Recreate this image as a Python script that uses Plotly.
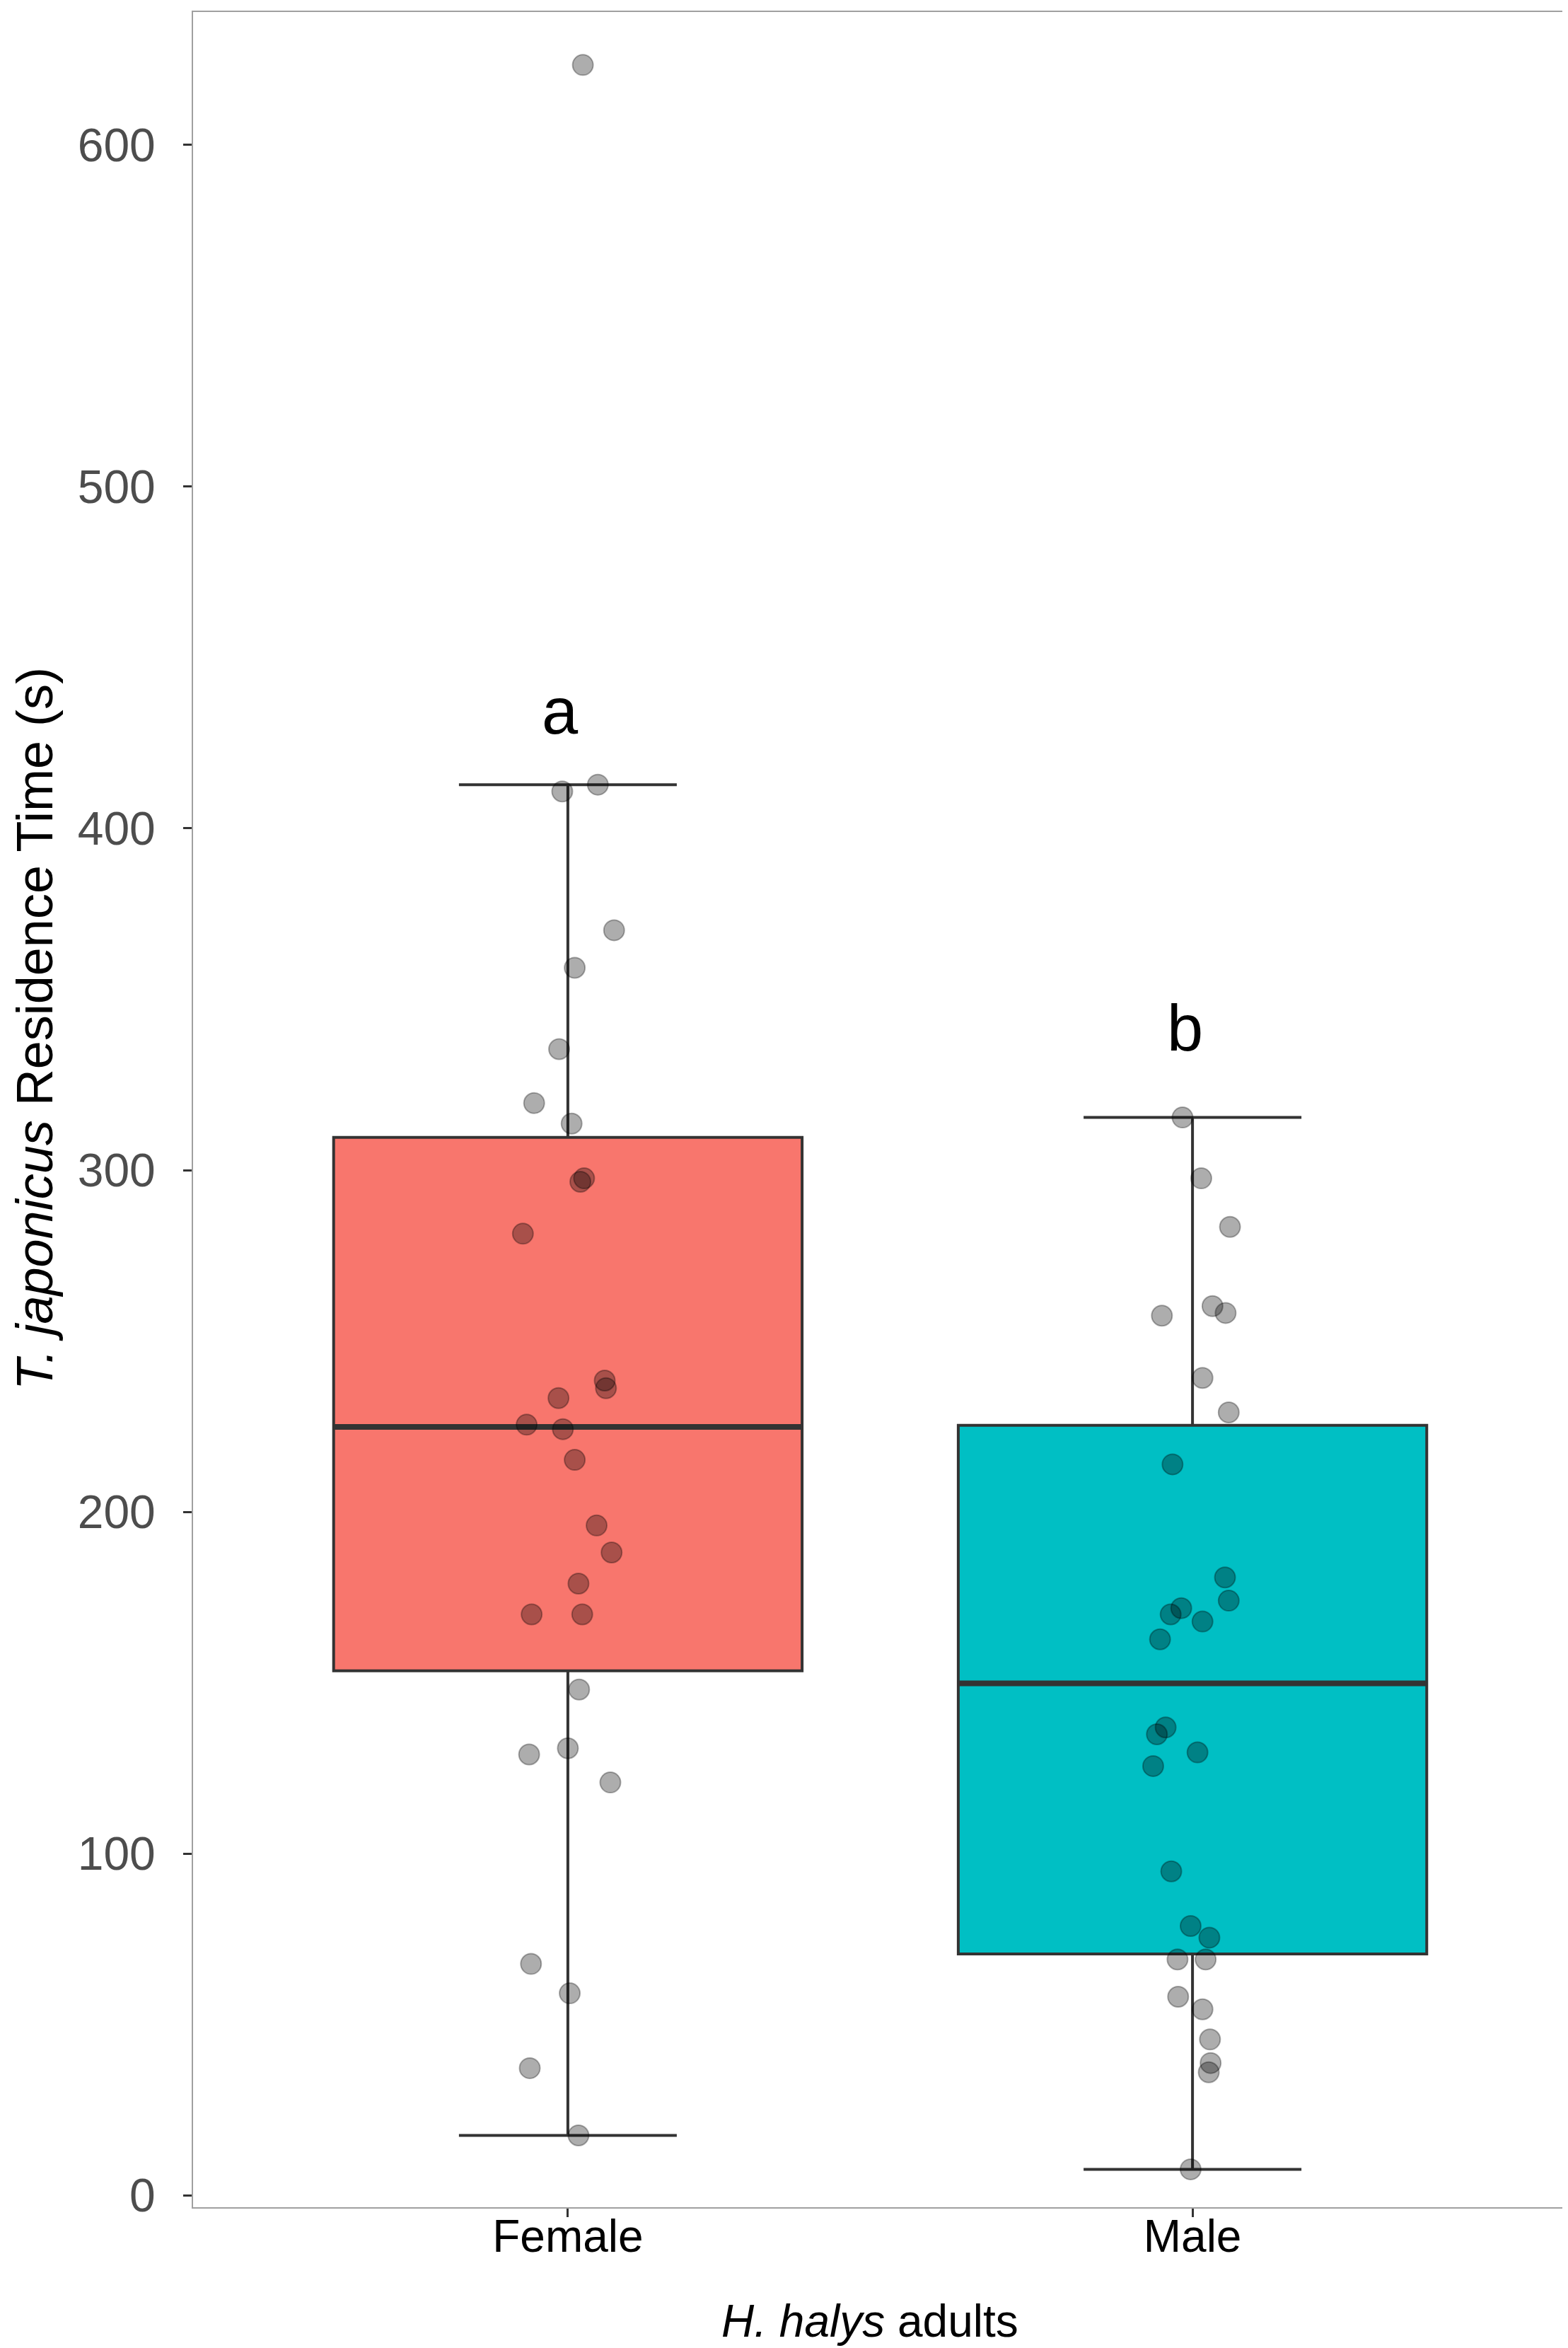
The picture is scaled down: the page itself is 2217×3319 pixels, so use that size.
import numpy as np
import plotly.graph_objects as go

groups = ["Female", "Male"]
group_pos = [1, 2]
fill_colors = ["#F8766D", "#00BFC4"]

# residence times (s), with the horizontal jitter of each point
female_time = [623.4, 412.8, 410.8, 370.2, 359.2, 335.4, 319.6, 313.6, 297.6, 296.6,
               281.4, 238.4, 236.2, 233.3, 225.5, 224.2, 215.2, 196.0, 188.1, 179.0,
               170.0, 170.0, 148.0, 130.8, 129.0, 120.8, 67.7, 59.1, 37.2, 17.5]
female_jitter = [0.024, 0.048, -0.009, 0.074, 0.011, -0.014, -0.054, 0.006, 0.026, 0.020,
                 -0.072, 0.059, 0.061, -0.015, -0.066, -0.008, 0.011, 0.046, 0.070, 0.017,
                 -0.058, 0.023, 0.018, 0.000, -0.062, 0.068, -0.059, 0.003, -0.061, 0.017]

male_time = [315.4, 297.6, 283.4, 257.4, 260.2, 258.2, 239.2, 229.1, 213.9, 180.8,
             174.0, 171.8, 170.0, 167.9, 162.7, 136.9, 134.9, 129.6, 125.6, 94.8,
             78.8, 75.4, 69.0, 69.0, 58.1, 54.4, 45.6, 38.7, 36.0, 7.6]
male_jitter = [-0.016, 0.014, 0.060, -0.049, 0.032, 0.053, 0.016, 0.058, -0.032, 0.052,
               0.058, -0.018, -0.035, 0.016, -0.052, -0.043, -0.057, 0.008, -0.063, -0.034,
               -0.003, 0.027, -0.024, 0.021, -0.023, 0.016, 0.028, 0.029, 0.026, -0.003]

letters = ["a", "b"]
letter_y = [427.5, 334.8]

times = [female_time, male_time]
jitters = [female_jitter, male_jitter]

box_w = 0.75
fig = go.Figure()

for pos, vals, col in zip(group_pos, times, fill_colors):
    v = np.array(vals)
    q1, med, q3 = np.percentile(v, [25, 50, 75])
    iqr = q3 - q1
    lo = v[v >= q1 - 1.5 * iqr].min()
    hi = v[v <= q3 + 1.5 * iqr].max()
    fig.add_trace(go.Box(
        x=[pos], q1=[q1], median=[med], q3=[q3], lowerfence=[lo], upperfence=[hi],
        width=box_w, whiskerwidth=0.465, fillcolor=col,
        line=dict(color="#333333", width=4), boxpoints=False,
        hoverinfo="skip", showlegend=False,
    ))
    # thicker median line, as in ggplot
    fig.add_trace(go.Scatter(
        x=[pos - box_w / 2, pos + box_w / 2], y=[med, med], mode="lines",
        line=dict(color="#333333", width=8), hoverinfo="skip", showlegend=False,
    ))

for pos, vals, jit in zip(group_pos, times, jitters):
    fig.add_trace(go.Scatter(
        x=[pos + j for j in jit], y=vals, mode="markers",
        marker=dict(size=29, color="rgba(0,0,0,0.32)",
                    line=dict(color="rgba(0,0,0,0.3)", width=2)),
        showlegend=False,
    ))

for pos, lab, ly in zip(group_pos, letters, letter_y):
    fig.add_annotation(x=pos - 0.012, y=ly, text=lab, showarrow=False,
                       xanchor="center", yanchor="bottom", yshift=-20,
                       font=dict(size=92, color="black"))

fig.add_annotation(xref="paper", yref="paper", x=-0.1157, y=0.537,
                   text="<i>T. japonicus</i> Residence Time (s)", textangle=-90,
                   showarrow=False, xanchor="center", yanchor="middle",
                   font=dict(size=72, color="black"))
fig.add_annotation(xref="paper", yref="paper", x=0.4925, y=-0.052,
                   text="<i>H. halys</i> adults", showarrow=False,
                   xanchor="center", yanchor="middle",
                   font=dict(size=64, color="black"))

fig.update_layout(
    width=2217, height=3319,
    margin=dict(l=265, r=8, t=7, b=207),
    paper_bgcolor="white", plot_bgcolor="white",
    font=dict(family="Liberation Sans, Arial, sans-serif"),
)
fig.update_xaxes(
    range=[0.4, 2.6], tickvals=group_pos, ticktext=groups,
    showgrid=False, zeroline=False,
    showline=True, linecolor="#A0A0A0", linewidth=2, mirror=True,
    ticks="outside", ticklen=12, tickwidth=3, tickcolor="#333333",
    tickfont=dict(size=64, color="black"), ticklabelstandoff=-28,
)
fig.update_yaxes(
    range=[-3.5, 638.9], tickvals=[0, 100, 200, 300, 400, 500, 600],
    showgrid=False, zeroline=False,
    showline=True, linecolor="#A0A0A0", linewidth=2, mirror=True,
    ticks="outside", ticklen=12, tickwidth=3, tickcolor="#333333",
    tickfont=dict(size=66, color="#4D4D4D"), ticklabelstandoff=26,
)

fig.write_html("out.html")
